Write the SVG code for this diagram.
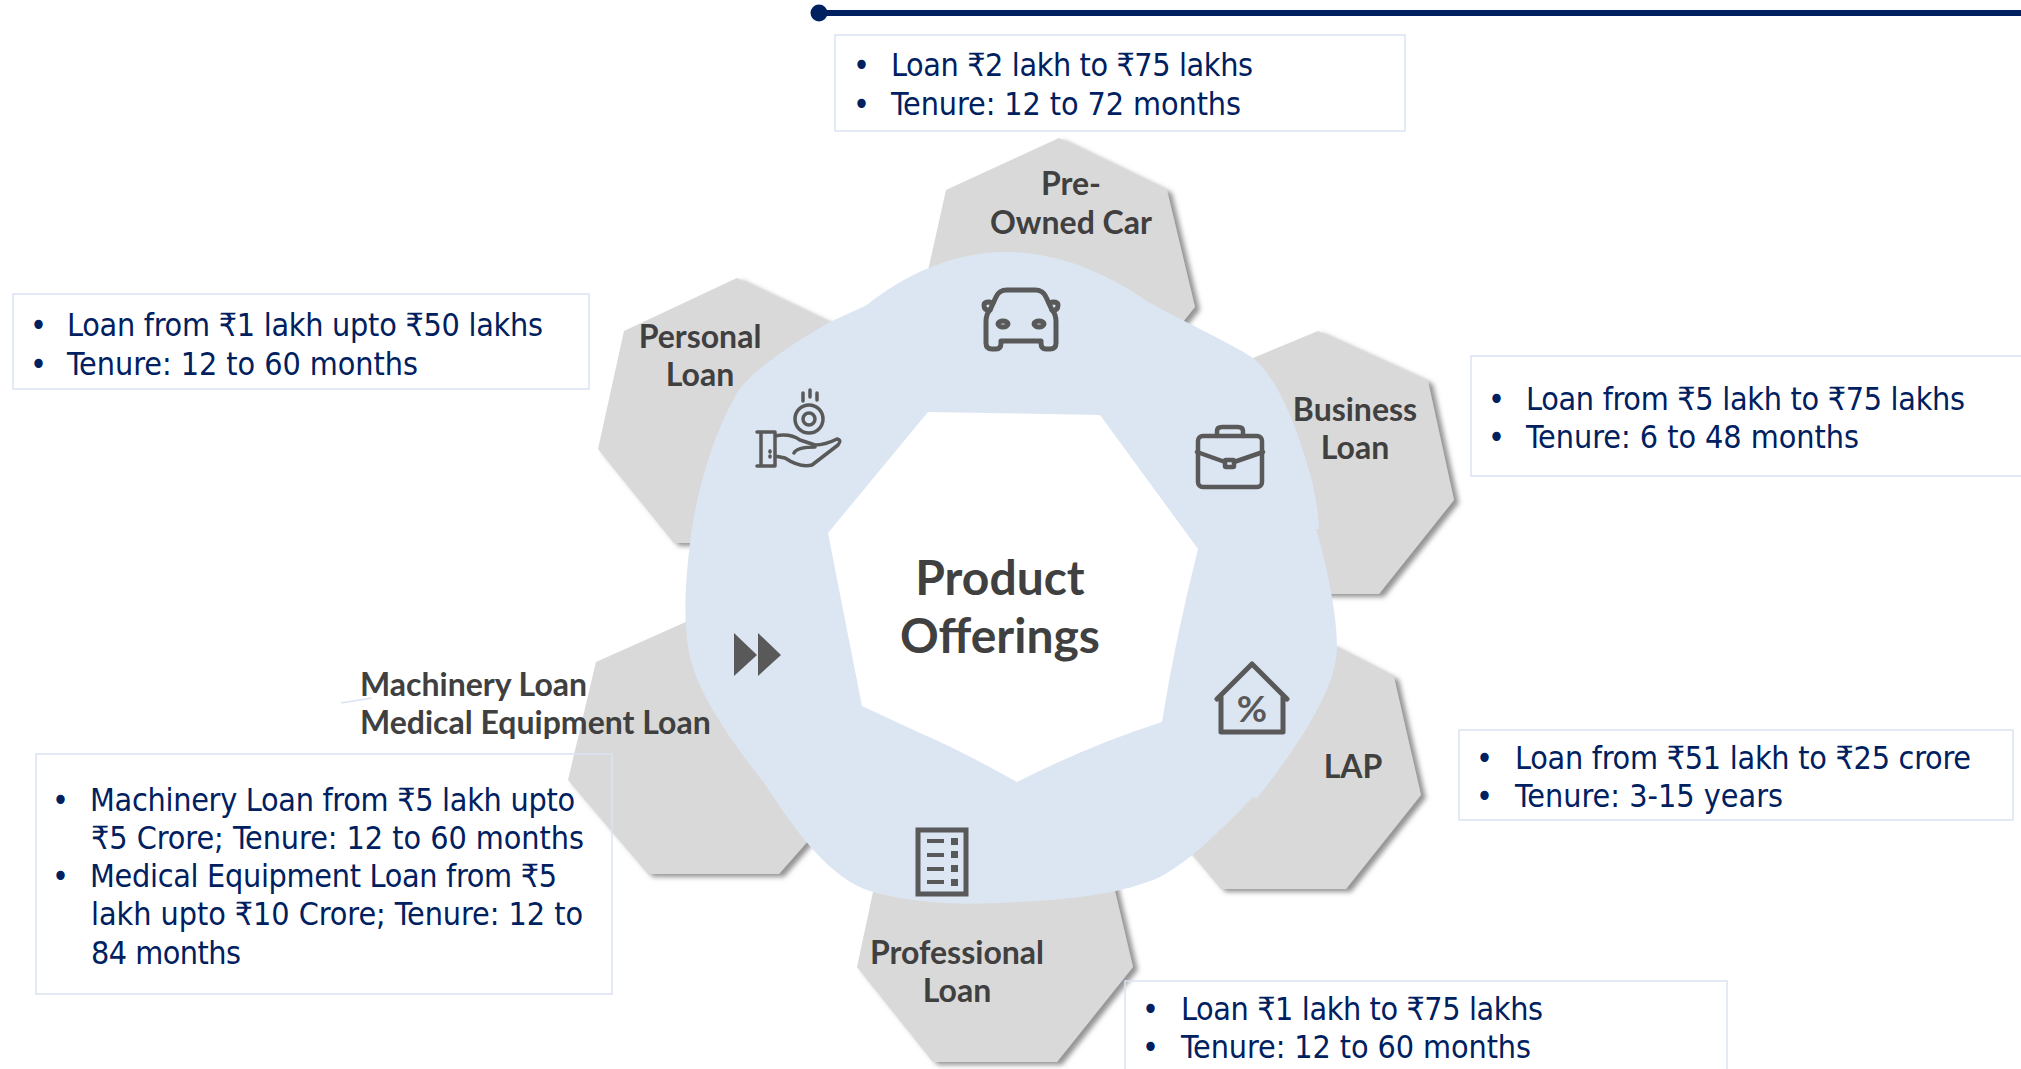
<svg xmlns="http://www.w3.org/2000/svg" width="2021" height="1069" viewBox="0 0 2021 1069">
<defs>
<filter id="sh" x="-10%" y="-10%" width="125%" height="125%"><feDropShadow dx="5" dy="3" stdDeviation="2.5" flood-color="#6f6f6f" flood-opacity="0.75"/></filter>
</defs>
<style>
.hex{fill:#d9d9d9;filter:url(#sh)}
.box{fill:none;stroke:#dae3f3;stroke-width:1.5}
.t{font-family:"DejaVu Sans Condensed","DejaVu Sans",sans-serif;font-size:32px;fill:#002060}
.lb{font-family:"Lato","Open Sans",sans-serif;font-weight:700;font-size:32px;fill:#404040}
.lc{text-anchor:middle}
.ic{fill:none;stroke:#595959;stroke-width:5;stroke-linejoin:round;stroke-linecap:round}
.if{fill:#595959}
</style>
<rect width="2021" height="1069" fill="#ffffff"/>
<g id="top-rule"><rect x="819" y="10" width="1202" height="6" fill="#002060"/><circle cx="819" cy="13" r="8.5" fill="#002060"/></g>

<g id="node-preowned"><polygon class="hex" points="1059,138 1167,190 1195,307 1120,400 990,400 917,320 946,190"/></g>
<g id="node-personal"><polygon class="hex" points="737,278 850,332 880,450 800,543 674,543 598,449 624,331"/></g>
<g id="node-business"><polygon class="hex" points="1318,331 1428,381 1454,500 1379,594 1250,594 1220,500 1253,358"/></g>
<g id="node-lap"><polygon class="hex" points="1330,644 1394,677 1421,795 1346,889 1221,889 1180,840 1230,700"/></g>
<g id="node-professional"><polygon class="hex" points="880,860 1108,860 1116,895 1133,967 1057,1062 933,1062 857,967 873,892"/></g>
<g id="node-machinery"><polygon class="hex" points="706,613 830,670 850,793 809,840 779,874 648,874 568,780 596,662"/></g>

<g id="node-ring"><path fill="#dce6f2" fill-rule="evenodd" d="M867,305 C910,270 960,252 1005,252 C1060,252 1110,275 1148,302 C1190,325 1225,340 1253,358 C1280,380 1300,435 1313,485 C1317,505 1319,520 1319,529 L1316,529 C1325,560 1337,610 1337,647 C1337,690 1295,750 1257,798 L1253,797 C1225,825 1195,858 1160,877 C1125,893 1070,900 1017,902 C970,905 920,905 873,892 C830,880 795,830 764,783 C735,745 705,705 693,667 C684,640 683,600 690,543 C695,500 710,440 737,393 C750,372 790,345 830,322 Z M928,412 L1100,415 L1198,549 Q1175,640 1162,722 Q1090,745 1017,782 Q960,750 920,733 L862,706 Q845,620 828,533 Z"/></g>

<g id="icon-car" class="ic"><path d="M990 310 L996 297 Q999 290 1007 290 H1035 Q1043 290 1046 297 L1052 310 Q1056 314 1056 322 V343 Q1056 349 1050 349 H1046 Q1041 349 1041 343 V341 H1001 V343 Q1001 349 996 349 H992 Q986 349 986 343 V322 Q986 314 990 310Z"/><path d="M990 310 Q984 311 984 305 Q984 302 989 302 L993 303 M1052 310 Q1058 311 1058 305 Q1058 302 1053 302 L1049 303"/><ellipse cx="1003" cy="324" rx="5" ry="3"/><ellipse cx="1039" cy="324" rx="5" ry="3"/></g>
<g id="icon-hand" class="ic" style="stroke-width:3.5"><circle cx="809" cy="419" r="14"/><circle cx="809" cy="419" r="6"/><path d="M803 393V401M810 390V397M817 393V400M757 432H775M757 466H775M761 432V466M775 432V466M775 436Q790 433 800 440L815 445Q825 445 837 439Q842 440 838 445L812 465Q800 468 785 458L775 456M794 453Q797 447 815 447"/><path d="M770 451V452M770 456V457"/></g>
<g id="icon-arrows" class="if"><polygon points="734,633 734,676 757,655"/><polygon points="758,633 758,676 781,655"/></g>
<g id="icon-case" class="ic" style="stroke-width:4.5"><rect x="1198" y="436" width="64" height="51" rx="5"/><path d="M1217 436V431Q1217 427 1222 427H1238Q1243 427 1243 431V436M1197 452L1225 462M1234 462L1263 452"/><rect x="1225" y="460" width="9" height="7" rx="1"/></g>
<g id="icon-house" class="ic"><path d="M1217 699L1252 664L1287 699M1221 696V732H1283V696"/></g>
<g id="icon-doc"><rect x="918" y="830" width="48" height="64" fill="none" stroke="#595959" stroke-width="5"/><path class="if" d="M927 839h17v4h-17zM927 853h17v4h-17zM927 867h17v4h-17zM927 880h17v4h-17zM951 838h7v7h-7zM951 851h7v7h-7zM951 865h7v7h-7zM951 879h7v7h-7z"/></g>
<text x="1252" y="722" text-anchor="middle" style="font-family:Lato,sans-serif;font-size:37px;font-weight:700;fill:#595959">%</text>

<g id="connectors"><line x1="341" y1="703" x2="372" y2="698" stroke="#dae3f3" stroke-width="1.5"/></g>

<g id="label-center" class="lb" style="font-size:48px"><text class="lc" x="1000" y="595">Product</text><text class="lc" x="1000" y="653">Offerings</text></g>
<g id="labels" class="lb">
<text class="lc" x="1071" y="195">Pre-</text><text class="lc" x="1071" y="234">Owned Car</text>
<text class="lc" x="700" y="348">Personal</text><text class="lc" x="700" y="386">Loan</text>
<text class="lc" x="1355" y="421">Business</text><text class="lc" x="1355" y="459">Loan</text>
<text class="lc" x="1353" y="778">LAP</text>
<text x="360" y="696">Machinery Loan</text><text x="360" y="734">Medical Equipment Loan</text>
<text class="lc" x="957" y="964">Professional</text><text class="lc" x="957" y="1002">Loan</text>
</g>

<g id="info-preowned" class="t"><rect class="box" x="835" y="35" width="570" height="96"/><text x="853" y="76">•</text><text x="891" y="76" textLength="362">Loan ₹2 lakh to ₹75 lakhs</text><text x="853" y="115">•</text><text x="891" y="115" textLength="350">Tenure: 12 to 72 months</text></g>
<g id="info-personal" class="t"><rect class="box" x="13" y="294" width="576" height="95"/><text x="30" y="336">•</text><text x="67" y="336" textLength="476">Loan from ₹1 lakh upto ₹50 lakhs</text><text x="30" y="375">•</text><text x="67" y="375" textLength="351">Tenure: 12 to 60 months</text></g>
<g id="info-business" class="t"><rect class="box" x="1471" y="356" width="560" height="120"/><text x="1488" y="410">•</text><text x="1526" y="410" textLength="439">Loan from ₹5 lakh to ₹75 lakhs</text><text x="1488" y="448">•</text><text x="1526" y="448" textLength="333">Tenure: 6 to 48 months</text></g>
<g id="info-lap" class="t"><rect class="box" x="1459" y="730" width="554" height="90"/><text x="1476" y="769">•</text><text x="1515" y="769" textLength="456">Loan from ₹51 lakh to ₹25 crore</text><text x="1476" y="807">•</text><text x="1515" y="807" textLength="268">Tenure: 3-15 years</text></g>
<g id="info-machinery" class="t"><rect class="box" x="36" y="754" width="576" height="240"/><text x="52" y="811">•</text><text x="90" y="811" textLength="485">Machinery Loan from ₹5 lakh upto</text><text x="91" y="849" textLength="493">₹5 Crore; Tenure: 12 to 60 months</text><text x="52" y="887">•</text><text x="90" y="887" textLength="467">Medical Equipment Loan from ₹5</text><text x="91" y="925" textLength="492">lakh upto ₹10 Crore; Tenure: 12 to</text><text x="91" y="964" textLength="150">84 months</text></g>
<g id="info-professional" class="t"><rect class="box" x="1125" y="981" width="602" height="100"/><text x="1142" y="1020">•</text><text x="1181" y="1020" textLength="362">Loan ₹1 lakh to ₹75 lakhs</text><text x="1142" y="1058">•</text><text x="1181" y="1058" textLength="350">Tenure: 12 to 60 months</text></g>
</svg>
